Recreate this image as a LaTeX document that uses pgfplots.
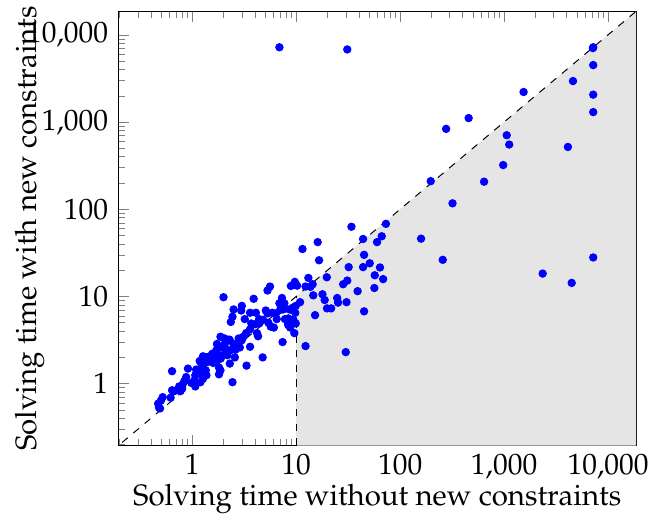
\documentclass[12pt,border=0pt]{standalone}
\usepackage[T1]{fontenc}
\usepackage{mathpazo}
\usepackage{pgfplots}
\pgfplotsset{compat=1.18}
\pgfplotstableread{
x y
6.9 7200
31 6800
7200 7200
7150 7050
7200 4500
4600 2950
7200 2060
7200 1300
1540 2210
456 1110
277 835
1060 706
1120 552
4110 518
980 321
642 207
197 210
319 117
159 46
257 26.3
7200 28
2350 18.3
4470 14.3
73 68
34 63
44 45.6
66.5 49
60 42
11.5 35
16.1 42
16.6 26
45 30
51 24
32 21.7
44 21.7
64 21.5
57 17.5
68.6 15.8
19.7 16.6
13.1 16.3
31 15.2
28.3 13.8
56.5 12.5
39 11.5
9.7 14.7
8.9 13.2
10.2 13.3
12.3 13
13.7 12.9
14.4 13.8
14.6 10.3
17.9 10.6
18.8 9.1
24.8 9.6
25.3 8.5
30.5 8.6
19.8 7.3
21.7 7.3
45 6.75
15.2 6.1
10.9 8.6
9.9 7.8
9.1 7.0
9.8 6.5
8.4 5.6
8.4 4.9
9.9 4.9
9.6 3.8
12.3 2.7
30 2.3
5.6 13
5.3 11.7
2.0 9.8
3.9 9.4
7.3 9.6
6.9 8.35
7.7 8.35
2.5 7.1
3.0 7.8
2.96 6.9
3.6 6.5
4.1 6.5
5.1 6.9
5.3 6.4
5.9 6.5
6.4 6.4
7.0 7.0
7.5 7.1
8.6 7.1
9.4 7.5
2.44 5.85
2.35 5.1
3.2 5.5
4.4 5.5
4.8 5.4
6.5 5.5
7.8 5.5
9.4 5.4
4.4 4.9
4.05 4.8
3.7 4.9
5.4 5.0
5.7 4.5
6.1 4.4
8.4 4.7
8.75 4.4
3.6 4.2
3.3 3.8
4.2 3.8
4.3 3.5
3.1 3.45
3.0 3.15
2.8 3.3
2.7 2.9
2.5 2.8
2.3 3.15
1.87 3.45
2.05 3.3
2.27 3.2
3.6 2.65
7.4 3.0
2.87 2.6
2.6 2.45
2.3 2.4
2.1 2.5
1.84 2.6
1.73 2.85
1.7 2.4
1.56 2.2
1.47 2.06
1.37 2.0
1.29 1.94
1.18 1.82
1.87 2.1
1.77 1.9
1.71 1.77
1.59 1.73
2.57 2.0
4.76 2.0
2.3 1.7
1.81 1.53
3.33 1.61
1.27 1.62
1.2 1.45
1.14 1.3
1.25 1.36
1.35 1.42
1.87 1.42
1.81 1.28
2.44 1.04
2.05 2.84
2.09 2.3
2.18 2.12
1.27 2.06
1.67 2.03
1.22 1.7
1.4 1.77
1.53 1.86
1.88 1.94
0.91 1.49
1.09 1.45
1.07 1.25
0.64 1.39
1.37 1.25
1.27 1.14
1.2 1.04
0.875 1.19
0.84 1.07
0.81 0.98
0.75 0.93
0.72 0.85
0.67 0.82
0.64 0.84
1.07 0.93
0.98 1.02
1.05 1.09
0.8 0.875
0.77 0.82
0.62 0.69
0.52 0.7
0.5 0.64
0.47 0.59
0.48 0.53
0.49 0.52
}\pointdata
\begin{document}
\begin{tikzpicture}
\begin{axis}[
  xmode=log, ymode=log,
  scale only axis, width=211pt, height=177pt,
  xmin=0.195, xmax=18600, ymin=0.195, ymax=18600,
  log ticks with fixed point,
  /pgf/number format/1000 sep={\mathord{,}},
  xticklabel style={yshift=-1.2pt, inner xsep=1pt, inner ysep=2pt},
  xlabel={Solving time without new constraints},
  ylabel={Solving time with new constraints},
  xlabel style={at={(axis description cs:0.5,0)}, anchor=north, inner ysep=2pt, yshift=-13.4pt, text depth=4.5pt},
  ylabel style={at={(axis description cs:0,0.5)}, anchor=south, inner xsep=2.5pt, inner ysep=6pt, yshift=24pt},
]
\addplot[fill=gray!20, draw=none, forget plot] coordinates {(10,0.195) (10,10) (18600,18600) (18600,0.195)};
\addplot[black, dashed, forget plot] coordinates {(0.1,0.1) (100000,100000)};
\addplot[black, dashed, forget plot] coordinates {(10,0.195) (10,10)};
\addplot[only marks, mark=*, mark size=1.5pt, blue] table {\pointdata};
\end{axis}
\end{tikzpicture}
\end{document}
